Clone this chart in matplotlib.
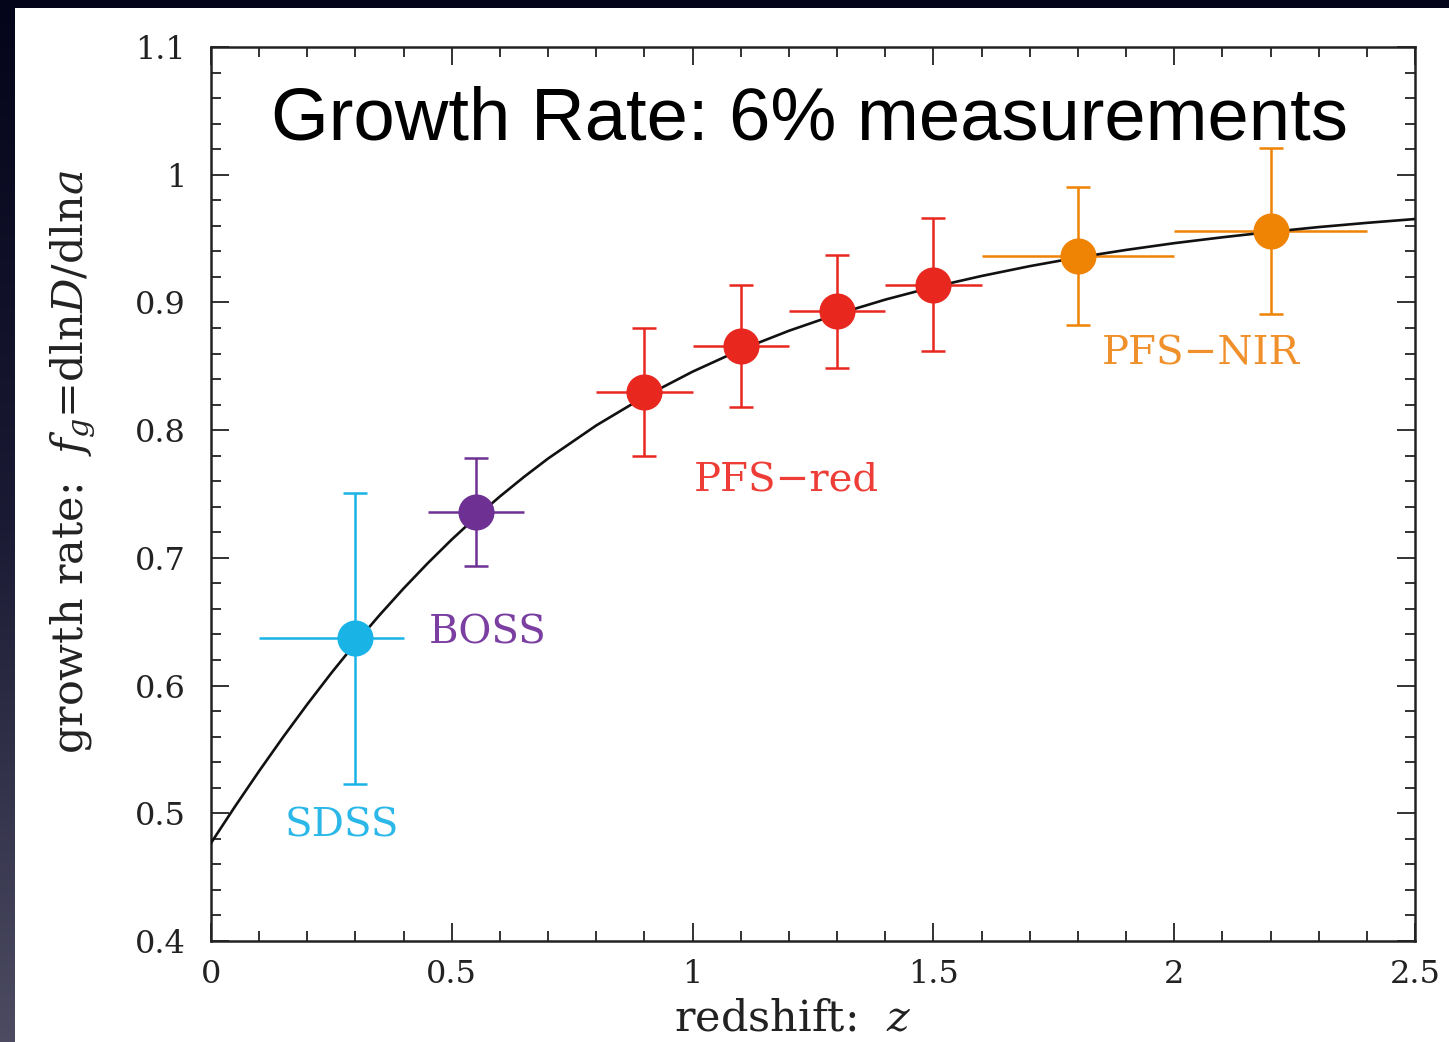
import numpy as np
import matplotlib
matplotlib.use('Agg')
import matplotlib.pyplot as plt
from matplotlib.colors import LinearSegmentedColormap
from matplotlib.patches import Rectangle
from matplotlib.ticker import MultipleLocator

# 数据: 从图上读出来的
z_pts = [0.3, 0.55, 0.9, 1.1, 1.3, 1.5, 1.8, 2.2]
f_pts = [0.637, 0.736, 0.830, 0.866, 0.893, 0.914, 0.936, 0.956]
f_err = [0.114, 0.042, 0.050, 0.048, 0.044, 0.052, 0.054, 0.065]
z_lo = [0.1, 0.45, 0.8, 1.0, 1.2, 1.4, 1.6, 2.0]
z_hi = [0.4, 0.65, 1.0, 1.2, 1.4, 1.6, 2.0, 2.4]
survey = ['SDSS', 'BOSS', 'PFS-red', 'PFS-red', 'PFS-red', 'PFS-red', 'PFS-NIR', 'PFS-NIR']

# 理论曲线 (读出的点)
z_curve = [0.0, 0.05, 0.1, 0.15, 0.2, 0.25, 0.3, 0.35, 0.4, 0.45, 0.5, 0.55,
           0.6, 0.65, 0.7, 0.8, 0.9, 1.0, 1.1, 1.2, 1.3, 1.4, 1.5, 1.6, 1.7,
           1.8, 1.9, 2.0, 2.1, 2.2, 2.3, 2.4, 2.5]
f_curve = [0.4767, 0.5054, 0.5331, 0.5598, 0.5854, 0.6099, 0.6332, 0.6552,
           0.6761, 0.6958, 0.7144, 0.7318, 0.7481, 0.7634, 0.7778, 0.8037,
           0.8262, 0.8458, 0.8630, 0.8778, 0.8908, 0.9022, 0.9121, 0.9207,
           0.9284, 0.9352, 0.9411, 0.9464, 0.9510, 0.9552, 0.9590, 0.9623,
           0.9653]

colors = {'SDSS': '#1ab3e6', 'BOSS': '#6e3193', 'PFS-red': '#e8271f', 'PFS-NIR': '#ee8304'}
label_colors = {'SDSS': '#2bb8e8', 'BOSS': '#7a3fa0', 'PFS-red': '#ee3d36', 'PFS-NIR': '#f0902a'}
label_text = {'SDSS': 'SDSS', 'BOSS': 'BOSS', 'PFS-red': 'PFS\u2212red', 'PFS-NIR': 'PFS\u2212NIR'}
label_pos = {'SDSS': (0.152, 0.490), 'BOSS': (0.453, 0.641),
             'PFS-red': (1.003, 0.760), 'PFS-NIR': (1.850, 0.860)}

plt.rcParams['mathtext.fontset'] = 'dejavuserif'

fig = plt.figure(figsize=(14.49, 10.42), dpi=100)

# 背景: 深色渐变 + 白色面板
bg = fig.add_axes([0, 0, 1, 1])
bg.set_axis_off()
grad = np.linspace(0, 1, 256).reshape(-1, 1)
cmap = LinearSegmentedColormap.from_list('bg', ['#04041a', '#1a1a34', '#4c4b62'])
bg.imshow(grad, aspect='auto', cmap=cmap, extent=[0, 1, 0, 1], origin='upper')
bg.add_patch(Rectangle((15 / 1449, 0), 1, 1 - 8 / 1042, facecolor='white',
                       edgecolor='none', transform=bg.transAxes))
bg.set_xlim(0, 1)
bg.set_ylim(0, 1)

ax = fig.add_axes([211 / 1449, 101 / 1042, 1204 / 1449, 894 / 1042])
ax.set_facecolor('white')

for i in range(len(z_pts)):
    c = colors[survey[i]]
    ax.errorbar(z_pts[i], f_pts[i], yerr=f_err[i], fmt='none', ecolor=c,
                elinewidth=1.8, capsize=8.5, capthick=1.8, zorder=2)
    ax.hlines(f_pts[i], z_lo[i], z_hi[i], color=c, linewidth=1.8, zorder=2)

ax.plot(z_curve, f_curve, color='#111111', linewidth=1.9, zorder=3)

for i in range(len(z_pts)):
    ax.plot(z_pts[i], f_pts[i], 'o', color=colors[survey[i]], markersize=26,
            markeredgewidth=0, zorder=4)

for k in label_pos:
    ax.text(label_pos[k][0], label_pos[k][1], label_text[k], color=label_colors[k],
            fontsize=29, family='DejaVu Serif', va='center', ha='left')

ax.text(0.497, 0.957, 'Growth Rate: 6% measurements', transform=ax.transAxes,
        fontsize=53.5, family='Liberation Sans', ha='center', va='top', zorder=5)

ax.set_xlim(0, 2.5)
ax.set_ylim(0.4, 1.1)
ax.xaxis.set_minor_locator(MultipleLocator(0.1))
ax.yaxis.set_minor_locator(MultipleLocator(0.02))
ax.set_xticks([0, 0.5, 1, 1.5, 2, 2.5])
ax.set_xticklabels(['0', '0.5', '1', '1.5', '2', '2.5'])
ax.set_yticks([0.4, 0.5, 0.6, 0.7, 0.8, 0.9, 1.0, 1.1])
ax.set_yticklabels(['0.4', '0.5', '0.6', '0.7', '0.8', '0.9', '1', '1.1'])
ax.tick_params(which='both', direction='in', top=True, right=True, width=1.3,
               color='#222222')
ax.tick_params(which='major', length=13, labelsize=23)
ax.tick_params(axis='x', which='major', pad=13)
ax.tick_params(axis='y', which='major', pad=18)
ax.tick_params(which='minor', length=7)
for lab in ax.get_xticklabels() + ax.get_yticklabels():
    lab.set_family('DejaVu Serif')
    lab.set_color('#222222')
for s in ax.spines.values():
    s.set_linewidth(1.8)
    s.set_color('#222222')

ax.set_xlabel(r'redshift:  $z$', fontsize=31, family='DejaVu Serif', color='#222222')
ax.set_ylabel(r'growth rate:  $f_g$=dln$D$/dln$a$', fontsize=31,
              family='DejaVu Serif', color='#222222')
ax.xaxis.set_label_coords(0.483, -0.063)
ax.yaxis.set_label_coords(-0.095, 0.536)

fig.savefig('out.png', dpi=100)
